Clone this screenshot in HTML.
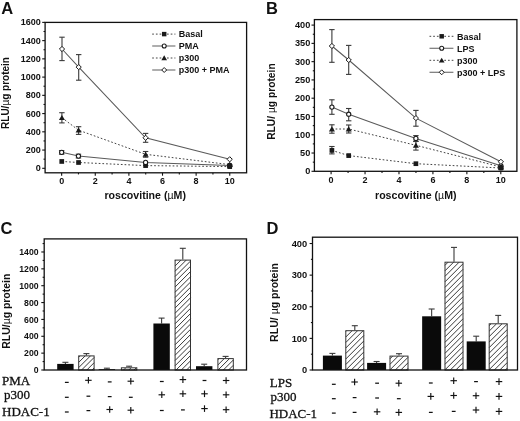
<!DOCTYPE html><html><head><meta charset="utf-8"><style>html,body{margin:0;padding:0;background:#fff;width:520px;height:421px;overflow:hidden}svg{display:block;filter:grayscale(100%) blur(0.4px)}</style></head><body><svg width="520" height="421" viewBox="0 0 520 421">
<defs><pattern id="hatchC" patternUnits="userSpaceOnUse" x="3.77" y="0" width="3.71" height="3.71" patternTransform="rotate(45)"><rect width="3.71" height="3.71" fill="#fff"/><line x1="0" y1="-1" x2="0" y2="4.71" stroke="#222" stroke-width="0.85"/><line x1="3.71" y1="-1" x2="3.71" y2="4.71" stroke="#222" stroke-width="0.85"/></pattern><pattern id="hatchD" patternUnits="userSpaceOnUse" x="0.57" y="0" width="3.89" height="3.89" patternTransform="rotate(45)"><rect width="3.89" height="3.89" fill="#fff"/><line x1="0" y1="-1" x2="0" y2="4.890000000000001" stroke="#222" stroke-width="0.85"/><line x1="3.89" y1="-1" x2="3.89" y2="4.890000000000001" stroke="#222" stroke-width="0.85"/></pattern></defs>
<rect width="520" height="421" fill="#fff"/>
<line x1="42.20" y1="168.30" x2="45.10" y2="168.30" stroke="#111" stroke-width="1.1" stroke-linecap="butt"/>
<text x="40.80" y="171.30" font-family='"Liberation Sans", sans-serif' font-size="9" font-weight="bold" text-anchor="end" fill="#111" >0</text>
<line x1="42.20" y1="150.06" x2="45.10" y2="150.06" stroke="#111" stroke-width="1.1" stroke-linecap="butt"/>
<text x="40.80" y="153.06" font-family='"Liberation Sans", sans-serif' font-size="9" font-weight="bold" text-anchor="end" fill="#111" >200</text>
<line x1="42.20" y1="131.82" x2="45.10" y2="131.82" stroke="#111" stroke-width="1.1" stroke-linecap="butt"/>
<text x="40.80" y="134.82" font-family='"Liberation Sans", sans-serif' font-size="9" font-weight="bold" text-anchor="end" fill="#111" >400</text>
<line x1="42.20" y1="113.58" x2="45.10" y2="113.58" stroke="#111" stroke-width="1.1" stroke-linecap="butt"/>
<text x="40.80" y="116.58" font-family='"Liberation Sans", sans-serif' font-size="9" font-weight="bold" text-anchor="end" fill="#111" >600</text>
<line x1="42.20" y1="95.34" x2="45.10" y2="95.34" stroke="#111" stroke-width="1.1" stroke-linecap="butt"/>
<text x="40.80" y="98.34" font-family='"Liberation Sans", sans-serif' font-size="9" font-weight="bold" text-anchor="end" fill="#111" >800</text>
<line x1="42.20" y1="77.10" x2="45.10" y2="77.10" stroke="#111" stroke-width="1.1" stroke-linecap="butt"/>
<text x="40.80" y="80.10" font-family='"Liberation Sans", sans-serif' font-size="9" font-weight="bold" text-anchor="end" fill="#111" >1000</text>
<line x1="42.20" y1="58.86" x2="45.10" y2="58.86" stroke="#111" stroke-width="1.1" stroke-linecap="butt"/>
<text x="40.80" y="61.86" font-family='"Liberation Sans", sans-serif' font-size="9" font-weight="bold" text-anchor="end" fill="#111" >1200</text>
<line x1="42.20" y1="40.62" x2="45.10" y2="40.62" stroke="#111" stroke-width="1.1" stroke-linecap="butt"/>
<text x="40.80" y="43.62" font-family='"Liberation Sans", sans-serif' font-size="9" font-weight="bold" text-anchor="end" fill="#111" >1400</text>
<line x1="42.20" y1="22.38" x2="45.10" y2="22.38" stroke="#111" stroke-width="1.1" stroke-linecap="butt"/>
<text x="40.80" y="25.38" font-family='"Liberation Sans", sans-serif' font-size="9" font-weight="bold" text-anchor="end" fill="#111" >1600</text>
<line x1="43.50" y1="159.18" x2="45.10" y2="159.18" stroke="#111" stroke-width="1.1" stroke-linecap="butt"/>
<line x1="43.50" y1="140.94" x2="45.10" y2="140.94" stroke="#111" stroke-width="1.1" stroke-linecap="butt"/>
<line x1="43.50" y1="122.70" x2="45.10" y2="122.70" stroke="#111" stroke-width="1.1" stroke-linecap="butt"/>
<line x1="43.50" y1="104.46" x2="45.10" y2="104.46" stroke="#111" stroke-width="1.1" stroke-linecap="butt"/>
<line x1="43.50" y1="86.22" x2="45.10" y2="86.22" stroke="#111" stroke-width="1.1" stroke-linecap="butt"/>
<line x1="43.50" y1="67.98" x2="45.10" y2="67.98" stroke="#111" stroke-width="1.1" stroke-linecap="butt"/>
<line x1="43.50" y1="49.74" x2="45.10" y2="49.74" stroke="#111" stroke-width="1.1" stroke-linecap="butt"/>
<line x1="43.50" y1="31.50" x2="45.10" y2="31.50" stroke="#111" stroke-width="1.1" stroke-linecap="butt"/>
<line x1="61.65" y1="172.80" x2="61.65" y2="175.70" stroke="#111" stroke-width="1.1" stroke-linecap="butt"/>
<text x="61.65" y="184.00" font-family='"Liberation Sans", sans-serif' font-size="9" font-weight="bold" text-anchor="middle" fill="#111" >0</text>
<line x1="95.27" y1="172.80" x2="95.27" y2="175.70" stroke="#111" stroke-width="1.1" stroke-linecap="butt"/>
<text x="95.27" y="184.00" font-family='"Liberation Sans", sans-serif' font-size="9" font-weight="bold" text-anchor="middle" fill="#111" >2</text>
<line x1="128.89" y1="172.80" x2="128.89" y2="175.70" stroke="#111" stroke-width="1.1" stroke-linecap="butt"/>
<text x="128.89" y="184.00" font-family='"Liberation Sans", sans-serif' font-size="9" font-weight="bold" text-anchor="middle" fill="#111" >4</text>
<line x1="162.51" y1="172.80" x2="162.51" y2="175.70" stroke="#111" stroke-width="1.1" stroke-linecap="butt"/>
<text x="162.51" y="184.00" font-family='"Liberation Sans", sans-serif' font-size="9" font-weight="bold" text-anchor="middle" fill="#111" >6</text>
<line x1="196.13" y1="172.80" x2="196.13" y2="175.70" stroke="#111" stroke-width="1.1" stroke-linecap="butt"/>
<text x="196.13" y="184.00" font-family='"Liberation Sans", sans-serif' font-size="9" font-weight="bold" text-anchor="middle" fill="#111" >8</text>
<line x1="229.75" y1="172.80" x2="229.75" y2="175.70" stroke="#111" stroke-width="1.1" stroke-linecap="butt"/>
<text x="229.75" y="184.00" font-family='"Liberation Sans", sans-serif' font-size="9" font-weight="bold" text-anchor="middle" fill="#111" >10</text>
<line x1="78.46" y1="172.80" x2="78.46" y2="174.40" stroke="#111" stroke-width="1.1" stroke-linecap="butt"/>
<line x1="112.08" y1="172.80" x2="112.08" y2="174.40" stroke="#111" stroke-width="1.1" stroke-linecap="butt"/>
<line x1="145.70" y1="172.80" x2="145.70" y2="174.40" stroke="#111" stroke-width="1.1" stroke-linecap="butt"/>
<line x1="179.32" y1="172.80" x2="179.32" y2="174.40" stroke="#111" stroke-width="1.1" stroke-linecap="butt"/>
<line x1="212.94" y1="172.80" x2="212.94" y2="174.40" stroke="#111" stroke-width="1.1" stroke-linecap="butt"/>
<rect x="45.1" y="22.4" width="201.50" height="150.40" fill="none" stroke="#111" stroke-width="1.3"/>
<polyline points="61.75,161.45 78.55,162.50 145.60,165.60 229.70,166.60" fill="none" stroke="#444" stroke-width="1.0" stroke-dasharray="1.7,2.0"/>
<polyline points="61.65,152.35 78.45,156.10 145.60,162.40 229.70,165.40" fill="none" stroke="#5a5a5a" stroke-width="1.05"/>
<polyline points="61.90,117.70 78.60,130.20 145.60,154.30 229.70,164.60" fill="none" stroke="#444" stroke-width="1.0" stroke-dasharray="1.7,2.0"/>
<polyline points="62.00,49.00 78.70,67.10 145.60,137.80 229.70,159.30" fill="none" stroke="#5a5a5a" stroke-width="1.05"/>
<line x1="61.65" y1="150.60" x2="61.65" y2="154.20" stroke="#3a3a3a" stroke-width="1.1" stroke-linecap="butt"/>
<line x1="58.95" y1="150.60" x2="64.35" y2="150.60" stroke="#3a3a3a" stroke-width="1.1" stroke-linecap="butt"/>
<line x1="58.95" y1="154.20" x2="64.35" y2="154.20" stroke="#3a3a3a" stroke-width="1.1" stroke-linecap="butt"/>
<line x1="78.45" y1="154.20" x2="78.45" y2="158.00" stroke="#3a3a3a" stroke-width="1.1" stroke-linecap="butt"/>
<line x1="75.75" y1="154.20" x2="81.15" y2="154.20" stroke="#3a3a3a" stroke-width="1.1" stroke-linecap="butt"/>
<line x1="75.75" y1="158.00" x2="81.15" y2="158.00" stroke="#3a3a3a" stroke-width="1.1" stroke-linecap="butt"/>
<line x1="61.90" y1="112.70" x2="61.90" y2="122.90" stroke="#3a3a3a" stroke-width="1.1" stroke-linecap="butt"/>
<line x1="59.20" y1="112.70" x2="64.60" y2="112.70" stroke="#3a3a3a" stroke-width="1.1" stroke-linecap="butt"/>
<line x1="59.20" y1="122.90" x2="64.60" y2="122.90" stroke="#3a3a3a" stroke-width="1.1" stroke-linecap="butt"/>
<line x1="78.60" y1="126.70" x2="78.60" y2="134.40" stroke="#3a3a3a" stroke-width="1.1" stroke-linecap="butt"/>
<line x1="75.90" y1="126.70" x2="81.30" y2="126.70" stroke="#3a3a3a" stroke-width="1.1" stroke-linecap="butt"/>
<line x1="75.90" y1="134.40" x2="81.30" y2="134.40" stroke="#3a3a3a" stroke-width="1.1" stroke-linecap="butt"/>
<line x1="145.60" y1="151.50" x2="145.60" y2="157.20" stroke="#3a3a3a" stroke-width="1.1" stroke-linecap="butt"/>
<line x1="142.90" y1="151.50" x2="148.30" y2="151.50" stroke="#3a3a3a" stroke-width="1.1" stroke-linecap="butt"/>
<line x1="142.90" y1="157.20" x2="148.30" y2="157.20" stroke="#3a3a3a" stroke-width="1.1" stroke-linecap="butt"/>
<line x1="62.00" y1="37.20" x2="62.00" y2="60.60" stroke="#3a3a3a" stroke-width="1.1" stroke-linecap="butt"/>
<line x1="59.30" y1="37.20" x2="64.70" y2="37.20" stroke="#3a3a3a" stroke-width="1.1" stroke-linecap="butt"/>
<line x1="59.30" y1="60.60" x2="64.70" y2="60.60" stroke="#3a3a3a" stroke-width="1.1" stroke-linecap="butt"/>
<line x1="78.70" y1="54.60" x2="78.70" y2="80.20" stroke="#3a3a3a" stroke-width="1.1" stroke-linecap="butt"/>
<line x1="76.00" y1="54.60" x2="81.40" y2="54.60" stroke="#3a3a3a" stroke-width="1.1" stroke-linecap="butt"/>
<line x1="76.00" y1="80.20" x2="81.40" y2="80.20" stroke="#3a3a3a" stroke-width="1.1" stroke-linecap="butt"/>
<line x1="145.60" y1="133.40" x2="145.60" y2="142.30" stroke="#3a3a3a" stroke-width="1.1" stroke-linecap="butt"/>
<line x1="142.90" y1="133.40" x2="148.30" y2="133.40" stroke="#3a3a3a" stroke-width="1.1" stroke-linecap="butt"/>
<line x1="142.90" y1="142.30" x2="148.30" y2="142.30" stroke="#3a3a3a" stroke-width="1.1" stroke-linecap="butt"/>
<rect x="59.40" y="159.10" width="4.70" height="4.70" fill="#1a1a1a"/>
<rect x="76.20" y="160.15" width="4.70" height="4.70" fill="#1a1a1a"/>
<rect x="143.25" y="163.25" width="4.70" height="4.70" fill="#1a1a1a"/>
<rect x="227.35" y="164.25" width="4.70" height="4.70" fill="#1a1a1a"/>
<circle cx="61.65" cy="152.35" r="2.10" fill="#fff" stroke="#1a1a1a" stroke-width="1.1"/>
<circle cx="78.45" cy="156.10" r="2.10" fill="#fff" stroke="#1a1a1a" stroke-width="1.1"/>
<circle cx="145.60" cy="162.40" r="2.10" fill="#fff" stroke="#1a1a1a" stroke-width="1.1"/>
<circle cx="229.70" cy="165.40" r="2.10" fill="#fff" stroke="#1a1a1a" stroke-width="1.1"/>
<polygon points="61.90,114.90 64.90,120.08 58.90,120.08" fill="#1a1a1a"/>
<polygon points="78.60,127.40 81.60,132.58 75.60,132.58" fill="#1a1a1a"/>
<polygon points="145.60,151.50 148.60,156.68 142.60,156.68" fill="#1a1a1a"/>
<polygon points="229.70,161.80 232.70,166.98 226.70,166.98" fill="#1a1a1a"/>
<rect x="227.10" y="163.00" width="5.2" height="5.60" rx="1.8" fill="#1a1a1a"/>
<polygon points="62.00,46.40 64.60,49.00 62.00,51.60 59.40,49.00" fill="#fff" stroke="#1a1a1a" stroke-width="1.0"/>
<polygon points="78.70,64.50 81.30,67.10 78.70,69.70 76.10,67.10" fill="#fff" stroke="#1a1a1a" stroke-width="1.0"/>
<polygon points="145.60,135.20 148.20,137.80 145.60,140.40 143.00,137.80" fill="#fff" stroke="#1a1a1a" stroke-width="1.0"/>
<polygon points="229.70,156.70 232.30,159.30 229.70,161.90 227.10,159.30" fill="#fff" stroke="#1a1a1a" stroke-width="1.0"/>
<line x1="152.20" y1="34.10" x2="175.40" y2="34.10" stroke="#444" stroke-width="1.0" stroke-linecap="butt" stroke-dasharray="1.7,2.0"/>
<rect x="161.97" y="31.87" width="4.46" height="4.46" fill="#1a1a1a"/>
<text x="178.70" y="37.40" font-family='"Liberation Sans", sans-serif' font-size="9" font-weight="bold" text-anchor="start" fill="#111" >Basal</text>
<line x1="152.20" y1="46.00" x2="175.40" y2="46.00" stroke="#777" stroke-width="1.2" stroke-linecap="butt"/>
<circle cx="164.20" cy="46.00" r="1.99" fill="#fff" stroke="#1a1a1a" stroke-width="1.1"/>
<text x="178.70" y="49.30" font-family='"Liberation Sans", sans-serif' font-size="9" font-weight="bold" text-anchor="start" fill="#111" >PMA</text>
<line x1="152.20" y1="58.00" x2="175.40" y2="58.00" stroke="#444" stroke-width="1.0" stroke-linecap="butt" stroke-dasharray="1.7,2.0"/>
<polygon points="164.20,55.34 167.05,60.26 161.35,60.26" fill="#1a1a1a"/>
<text x="178.70" y="61.30" font-family='"Liberation Sans", sans-serif' font-size="9" font-weight="bold" text-anchor="start" fill="#111" >p300</text>
<line x1="152.20" y1="70.00" x2="175.40" y2="70.00" stroke="#777" stroke-width="1.2" stroke-linecap="butt"/>
<polygon points="164.20,67.53 166.67,70.00 164.20,72.47 161.73,70.00" fill="#fff" stroke="#1a1a1a" stroke-width="1.0"/>
<text x="178.70" y="73.30" font-family='"Liberation Sans", sans-serif' font-size="9" font-weight="bold" text-anchor="start" fill="#111" >p300 + PMA</text>
<text x="145.20" y="198.60" font-family='"Liberation Sans", sans-serif' font-size="10.6" font-weight="bold" text-anchor="middle" fill="#111" >roscovitine (<tspan font-weight="normal">&#181;</tspan>M)</text>
<text x="0.00" y="0.00" font-family='"Liberation Sans", sans-serif' font-size="10.0" font-weight="bold" text-anchor="middle" fill="#111" transform="translate(9.4,93.0) rotate(-90)">RLU/<tspan font-weight="normal">&#181;</tspan>g protein</text>
<text x="1.20" y="13.80" font-family='"Liberation Sans", sans-serif' font-size="16.5" font-weight="bold" text-anchor="start" fill="#111" >A</text>
<line x1="311.50" y1="171.30" x2="314.40" y2="171.30" stroke="#111" stroke-width="1.1" stroke-linecap="butt"/>
<text x="310.30" y="174.40" font-family='"Liberation Sans", sans-serif' font-size="9.2" font-weight="bold" text-anchor="end" fill="#111" >0</text>
<line x1="311.50" y1="153.03" x2="314.40" y2="153.03" stroke="#111" stroke-width="1.1" stroke-linecap="butt"/>
<text x="310.30" y="156.12" font-family='"Liberation Sans", sans-serif' font-size="9.2" font-weight="bold" text-anchor="end" fill="#111" >50</text>
<line x1="311.50" y1="134.75" x2="314.40" y2="134.75" stroke="#111" stroke-width="1.1" stroke-linecap="butt"/>
<text x="310.30" y="137.85" font-family='"Liberation Sans", sans-serif' font-size="9.2" font-weight="bold" text-anchor="end" fill="#111" >100</text>
<line x1="311.50" y1="116.48" x2="314.40" y2="116.48" stroke="#111" stroke-width="1.1" stroke-linecap="butt"/>
<text x="310.30" y="119.58" font-family='"Liberation Sans", sans-serif' font-size="9.2" font-weight="bold" text-anchor="end" fill="#111" >150</text>
<line x1="311.50" y1="98.20" x2="314.40" y2="98.20" stroke="#111" stroke-width="1.1" stroke-linecap="butt"/>
<text x="310.30" y="101.30" font-family='"Liberation Sans", sans-serif' font-size="9.2" font-weight="bold" text-anchor="end" fill="#111" >200</text>
<line x1="311.50" y1="79.93" x2="314.40" y2="79.93" stroke="#111" stroke-width="1.1" stroke-linecap="butt"/>
<text x="310.30" y="83.03" font-family='"Liberation Sans", sans-serif' font-size="9.2" font-weight="bold" text-anchor="end" fill="#111" >250</text>
<line x1="311.50" y1="61.65" x2="314.40" y2="61.65" stroke="#111" stroke-width="1.1" stroke-linecap="butt"/>
<text x="310.30" y="64.75" font-family='"Liberation Sans", sans-serif' font-size="9.2" font-weight="bold" text-anchor="end" fill="#111" >300</text>
<line x1="311.50" y1="43.38" x2="314.40" y2="43.38" stroke="#111" stroke-width="1.1" stroke-linecap="butt"/>
<text x="310.30" y="46.48" font-family='"Liberation Sans", sans-serif' font-size="9.2" font-weight="bold" text-anchor="end" fill="#111" >350</text>
<line x1="311.50" y1="25.10" x2="314.40" y2="25.10" stroke="#111" stroke-width="1.1" stroke-linecap="butt"/>
<text x="310.30" y="28.20" font-family='"Liberation Sans", sans-serif' font-size="9.2" font-weight="bold" text-anchor="end" fill="#111" >400</text>
<line x1="312.80" y1="162.16" x2="314.40" y2="162.16" stroke="#111" stroke-width="1.1" stroke-linecap="butt"/>
<line x1="312.80" y1="143.89" x2="314.40" y2="143.89" stroke="#111" stroke-width="1.1" stroke-linecap="butt"/>
<line x1="312.80" y1="125.61" x2="314.40" y2="125.61" stroke="#111" stroke-width="1.1" stroke-linecap="butt"/>
<line x1="312.80" y1="107.34" x2="314.40" y2="107.34" stroke="#111" stroke-width="1.1" stroke-linecap="butt"/>
<line x1="312.80" y1="89.06" x2="314.40" y2="89.06" stroke="#111" stroke-width="1.1" stroke-linecap="butt"/>
<line x1="312.80" y1="70.79" x2="314.40" y2="70.79" stroke="#111" stroke-width="1.1" stroke-linecap="butt"/>
<line x1="312.80" y1="52.51" x2="314.40" y2="52.51" stroke="#111" stroke-width="1.1" stroke-linecap="butt"/>
<line x1="312.80" y1="34.24" x2="314.40" y2="34.24" stroke="#111" stroke-width="1.1" stroke-linecap="butt"/>
<line x1="331.10" y1="171.30" x2="331.10" y2="174.20" stroke="#111" stroke-width="1.1" stroke-linecap="butt"/>
<text x="331.10" y="182.80" font-family='"Liberation Sans", sans-serif' font-size="9" font-weight="bold" text-anchor="middle" fill="#111" >0</text>
<line x1="365.04" y1="171.30" x2="365.04" y2="174.20" stroke="#111" stroke-width="1.1" stroke-linecap="butt"/>
<text x="365.04" y="182.80" font-family='"Liberation Sans", sans-serif' font-size="9" font-weight="bold" text-anchor="middle" fill="#111" >2</text>
<line x1="398.98" y1="171.30" x2="398.98" y2="174.20" stroke="#111" stroke-width="1.1" stroke-linecap="butt"/>
<text x="398.98" y="182.80" font-family='"Liberation Sans", sans-serif' font-size="9" font-weight="bold" text-anchor="middle" fill="#111" >4</text>
<line x1="432.92" y1="171.30" x2="432.92" y2="174.20" stroke="#111" stroke-width="1.1" stroke-linecap="butt"/>
<text x="432.92" y="182.80" font-family='"Liberation Sans", sans-serif' font-size="9" font-weight="bold" text-anchor="middle" fill="#111" >6</text>
<line x1="466.86" y1="171.30" x2="466.86" y2="174.20" stroke="#111" stroke-width="1.1" stroke-linecap="butt"/>
<text x="466.86" y="182.80" font-family='"Liberation Sans", sans-serif' font-size="9" font-weight="bold" text-anchor="middle" fill="#111" >8</text>
<line x1="500.80" y1="171.30" x2="500.80" y2="174.20" stroke="#111" stroke-width="1.1" stroke-linecap="butt"/>
<text x="500.80" y="182.80" font-family='"Liberation Sans", sans-serif' font-size="9" font-weight="bold" text-anchor="middle" fill="#111" >10</text>
<line x1="348.07" y1="171.30" x2="348.07" y2="172.90" stroke="#111" stroke-width="1.1" stroke-linecap="butt"/>
<line x1="382.01" y1="171.30" x2="382.01" y2="172.90" stroke="#111" stroke-width="1.1" stroke-linecap="butt"/>
<line x1="415.95" y1="171.30" x2="415.95" y2="172.90" stroke="#111" stroke-width="1.1" stroke-linecap="butt"/>
<line x1="449.89" y1="171.30" x2="449.89" y2="172.90" stroke="#111" stroke-width="1.1" stroke-linecap="butt"/>
<line x1="483.83" y1="171.30" x2="483.83" y2="172.90" stroke="#111" stroke-width="1.1" stroke-linecap="butt"/>
<rect x="314.4" y="19.6" width="202.50" height="151.70" fill="none" stroke="#111" stroke-width="1.3"/>
<polyline points="331.90,150.40 348.70,155.60 415.90,163.70 500.90,168.00" fill="none" stroke="#444" stroke-width="1.0" stroke-dasharray="1.7,2.0"/>
<polyline points="331.90,107.10 348.70,114.20 415.90,138.40 500.90,165.80" fill="none" stroke="#5a5a5a" stroke-width="1.05"/>
<polyline points="331.90,129.00 348.70,129.00 415.90,145.30 500.90,167.00" fill="none" stroke="#444" stroke-width="1.0" stroke-dasharray="1.7,2.0"/>
<polyline points="331.90,46.00 348.70,60.00 415.90,118.10 500.90,161.80" fill="none" stroke="#5a5a5a" stroke-width="1.05"/>
<line x1="331.90" y1="146.50" x2="331.90" y2="153.90" stroke="#3a3a3a" stroke-width="1.1" stroke-linecap="butt"/>
<line x1="329.20" y1="146.50" x2="334.60" y2="146.50" stroke="#3a3a3a" stroke-width="1.1" stroke-linecap="butt"/>
<line x1="329.20" y1="153.90" x2="334.60" y2="153.90" stroke="#3a3a3a" stroke-width="1.1" stroke-linecap="butt"/>
<line x1="331.90" y1="99.80" x2="331.90" y2="114.30" stroke="#3a3a3a" stroke-width="1.1" stroke-linecap="butt"/>
<line x1="329.20" y1="99.80" x2="334.60" y2="99.80" stroke="#3a3a3a" stroke-width="1.1" stroke-linecap="butt"/>
<line x1="329.20" y1="114.30" x2="334.60" y2="114.30" stroke="#3a3a3a" stroke-width="1.1" stroke-linecap="butt"/>
<line x1="348.70" y1="108.50" x2="348.70" y2="120.80" stroke="#3a3a3a" stroke-width="1.1" stroke-linecap="butt"/>
<line x1="346.00" y1="108.50" x2="351.40" y2="108.50" stroke="#3a3a3a" stroke-width="1.1" stroke-linecap="butt"/>
<line x1="346.00" y1="120.80" x2="351.40" y2="120.80" stroke="#3a3a3a" stroke-width="1.1" stroke-linecap="butt"/>
<line x1="415.90" y1="135.60" x2="415.90" y2="141.20" stroke="#3a3a3a" stroke-width="1.1" stroke-linecap="butt"/>
<line x1="413.20" y1="135.60" x2="418.60" y2="135.60" stroke="#3a3a3a" stroke-width="1.1" stroke-linecap="butt"/>
<line x1="413.20" y1="141.20" x2="418.60" y2="141.20" stroke="#3a3a3a" stroke-width="1.1" stroke-linecap="butt"/>
<line x1="331.90" y1="124.80" x2="331.90" y2="133.20" stroke="#3a3a3a" stroke-width="1.1" stroke-linecap="butt"/>
<line x1="329.20" y1="124.80" x2="334.60" y2="124.80" stroke="#3a3a3a" stroke-width="1.1" stroke-linecap="butt"/>
<line x1="329.20" y1="133.20" x2="334.60" y2="133.20" stroke="#3a3a3a" stroke-width="1.1" stroke-linecap="butt"/>
<line x1="348.70" y1="125.00" x2="348.70" y2="133.00" stroke="#3a3a3a" stroke-width="1.1" stroke-linecap="butt"/>
<line x1="346.00" y1="125.00" x2="351.40" y2="125.00" stroke="#3a3a3a" stroke-width="1.1" stroke-linecap="butt"/>
<line x1="346.00" y1="133.00" x2="351.40" y2="133.00" stroke="#3a3a3a" stroke-width="1.1" stroke-linecap="butt"/>
<line x1="415.90" y1="141.50" x2="415.90" y2="150.10" stroke="#3a3a3a" stroke-width="1.1" stroke-linecap="butt"/>
<line x1="413.20" y1="141.50" x2="418.60" y2="141.50" stroke="#3a3a3a" stroke-width="1.1" stroke-linecap="butt"/>
<line x1="413.20" y1="150.10" x2="418.60" y2="150.10" stroke="#3a3a3a" stroke-width="1.1" stroke-linecap="butt"/>
<line x1="331.90" y1="29.60" x2="331.90" y2="62.30" stroke="#3a3a3a" stroke-width="1.1" stroke-linecap="butt"/>
<line x1="329.20" y1="29.60" x2="334.60" y2="29.60" stroke="#3a3a3a" stroke-width="1.1" stroke-linecap="butt"/>
<line x1="329.20" y1="62.30" x2="334.60" y2="62.30" stroke="#3a3a3a" stroke-width="1.1" stroke-linecap="butt"/>
<line x1="348.70" y1="45.40" x2="348.70" y2="74.40" stroke="#3a3a3a" stroke-width="1.1" stroke-linecap="butt"/>
<line x1="346.00" y1="45.40" x2="351.40" y2="45.40" stroke="#3a3a3a" stroke-width="1.1" stroke-linecap="butt"/>
<line x1="346.00" y1="74.40" x2="351.40" y2="74.40" stroke="#3a3a3a" stroke-width="1.1" stroke-linecap="butt"/>
<line x1="415.90" y1="110.40" x2="415.90" y2="126.20" stroke="#3a3a3a" stroke-width="1.1" stroke-linecap="butt"/>
<line x1="413.20" y1="110.40" x2="418.60" y2="110.40" stroke="#3a3a3a" stroke-width="1.1" stroke-linecap="butt"/>
<line x1="413.20" y1="126.20" x2="418.60" y2="126.20" stroke="#3a3a3a" stroke-width="1.1" stroke-linecap="butt"/>
<rect x="329.55" y="148.05" width="4.70" height="4.70" fill="#1a1a1a"/>
<rect x="346.35" y="153.25" width="4.70" height="4.70" fill="#1a1a1a"/>
<rect x="413.55" y="161.35" width="4.70" height="4.70" fill="#1a1a1a"/>
<rect x="498.55" y="165.65" width="4.70" height="4.70" fill="#1a1a1a"/>
<circle cx="331.90" cy="107.10" r="2.10" fill="#fff" stroke="#1a1a1a" stroke-width="1.1"/>
<circle cx="348.70" cy="114.20" r="2.10" fill="#fff" stroke="#1a1a1a" stroke-width="1.1"/>
<circle cx="415.90" cy="138.40" r="2.10" fill="#fff" stroke="#1a1a1a" stroke-width="1.1"/>
<circle cx="500.90" cy="165.80" r="2.10" fill="#fff" stroke="#1a1a1a" stroke-width="1.1"/>
<polygon points="331.90,126.20 334.90,131.38 328.90,131.38" fill="#1a1a1a"/>
<polygon points="348.70,126.20 351.70,131.38 345.70,131.38" fill="#1a1a1a"/>
<polygon points="415.90,142.50 418.90,147.68 412.90,147.68" fill="#1a1a1a"/>
<polygon points="500.90,164.20 503.90,169.38 497.90,169.38" fill="#1a1a1a"/>
<rect x="498.30" y="165.00" width="5.2" height="5.30" rx="1.8" fill="#1a1a1a"/>
<polygon points="331.90,43.40 334.50,46.00 331.90,48.60 329.30,46.00" fill="#fff" stroke="#1a1a1a" stroke-width="1.0"/>
<polygon points="348.70,57.40 351.30,60.00 348.70,62.60 346.10,60.00" fill="#fff" stroke="#1a1a1a" stroke-width="1.0"/>
<polygon points="415.90,115.50 418.50,118.10 415.90,120.70 413.30,118.10" fill="#fff" stroke="#1a1a1a" stroke-width="1.0"/>
<polygon points="500.90,159.20 503.50,161.80 500.90,164.40 498.30,161.80" fill="#fff" stroke="#1a1a1a" stroke-width="1.0"/>
<line x1="429.50" y1="36.30" x2="453.40" y2="36.30" stroke="#444" stroke-width="1.0" stroke-linecap="butt" stroke-dasharray="1.7,2.0"/>
<rect x="439.47" y="34.07" width="4.46" height="4.46" fill="#1a1a1a"/>
<text x="457.00" y="39.60" font-family='"Liberation Sans", sans-serif' font-size="9" font-weight="bold" text-anchor="start" fill="#111" >Basal</text>
<line x1="429.50" y1="48.30" x2="453.40" y2="48.30" stroke="#777" stroke-width="1.2" stroke-linecap="butt"/>
<circle cx="441.70" cy="48.30" r="1.99" fill="#fff" stroke="#1a1a1a" stroke-width="1.1"/>
<text x="457.00" y="51.60" font-family='"Liberation Sans", sans-serif' font-size="9" font-weight="bold" text-anchor="start" fill="#111" >LPS</text>
<line x1="429.50" y1="60.30" x2="453.40" y2="60.30" stroke="#444" stroke-width="1.0" stroke-linecap="butt" stroke-dasharray="1.7,2.0"/>
<polygon points="441.70,57.64 444.55,62.56 438.85,62.56" fill="#1a1a1a"/>
<text x="457.00" y="63.60" font-family='"Liberation Sans", sans-serif' font-size="9" font-weight="bold" text-anchor="start" fill="#111" >p300</text>
<line x1="429.50" y1="72.30" x2="453.40" y2="72.30" stroke="#777" stroke-width="1.2" stroke-linecap="butt"/>
<polygon points="441.70,69.83 444.17,72.30 441.70,74.77 439.23,72.30" fill="#fff" stroke="#1a1a1a" stroke-width="1.0"/>
<text x="457.00" y="75.60" font-family='"Liberation Sans", sans-serif' font-size="9" font-weight="bold" text-anchor="start" fill="#111" >p300 + LPS</text>
<text x="415.75" y="198.60" font-family='"Liberation Sans", sans-serif' font-size="10.6" font-weight="bold" text-anchor="middle" fill="#111" >roscovitine (<tspan font-weight="normal">&#181;</tspan>M)</text>
<text x="0.00" y="0.00" font-family='"Liberation Sans", sans-serif' font-size="10.25" font-weight="bold" text-anchor="middle" fill="#111" transform="translate(275.4,101.6) rotate(-90)">RLU/ <tspan font-weight="normal">&#181;</tspan>g protein</text>
<text x="266.00" y="13.80" font-family='"Liberation Sans", sans-serif' font-size="16.5" font-weight="bold" text-anchor="start" fill="#111" >B</text>
<line x1="41.30" y1="370.00" x2="44.20" y2="370.00" stroke="#111" stroke-width="1.1" stroke-linecap="butt"/>
<text x="38.60" y="373.10" font-family='"Liberation Sans", sans-serif' font-size="8.7" font-weight="bold" text-anchor="end" fill="#111" >0</text>
<line x1="41.30" y1="353.14" x2="44.20" y2="353.14" stroke="#111" stroke-width="1.1" stroke-linecap="butt"/>
<text x="38.60" y="356.24" font-family='"Liberation Sans", sans-serif' font-size="8.7" font-weight="bold" text-anchor="end" fill="#111" >200</text>
<line x1="41.30" y1="336.28" x2="44.20" y2="336.28" stroke="#111" stroke-width="1.1" stroke-linecap="butt"/>
<text x="38.60" y="339.38" font-family='"Liberation Sans", sans-serif' font-size="8.7" font-weight="bold" text-anchor="end" fill="#111" >400</text>
<line x1="41.30" y1="319.42" x2="44.20" y2="319.42" stroke="#111" stroke-width="1.1" stroke-linecap="butt"/>
<text x="38.60" y="322.52" font-family='"Liberation Sans", sans-serif' font-size="8.7" font-weight="bold" text-anchor="end" fill="#111" >600</text>
<line x1="41.30" y1="302.56" x2="44.20" y2="302.56" stroke="#111" stroke-width="1.1" stroke-linecap="butt"/>
<text x="38.60" y="305.66" font-family='"Liberation Sans", sans-serif' font-size="8.7" font-weight="bold" text-anchor="end" fill="#111" >800</text>
<line x1="41.30" y1="285.70" x2="44.20" y2="285.70" stroke="#111" stroke-width="1.1" stroke-linecap="butt"/>
<text x="38.60" y="288.80" font-family='"Liberation Sans", sans-serif' font-size="8.7" font-weight="bold" text-anchor="end" fill="#111" >1000</text>
<line x1="41.30" y1="268.84" x2="44.20" y2="268.84" stroke="#111" stroke-width="1.1" stroke-linecap="butt"/>
<text x="38.60" y="271.94" font-family='"Liberation Sans", sans-serif' font-size="8.7" font-weight="bold" text-anchor="end" fill="#111" >1200</text>
<line x1="41.30" y1="251.98" x2="44.20" y2="251.98" stroke="#111" stroke-width="1.1" stroke-linecap="butt"/>
<text x="38.60" y="255.08" font-family='"Liberation Sans", sans-serif' font-size="8.7" font-weight="bold" text-anchor="end" fill="#111" >1400</text>
<line x1="42.60" y1="361.57" x2="44.20" y2="361.57" stroke="#111" stroke-width="1.1" stroke-linecap="butt"/>
<line x1="42.60" y1="344.71" x2="44.20" y2="344.71" stroke="#111" stroke-width="1.1" stroke-linecap="butt"/>
<line x1="42.60" y1="327.85" x2="44.20" y2="327.85" stroke="#111" stroke-width="1.1" stroke-linecap="butt"/>
<line x1="42.60" y1="310.99" x2="44.20" y2="310.99" stroke="#111" stroke-width="1.1" stroke-linecap="butt"/>
<line x1="42.60" y1="294.13" x2="44.20" y2="294.13" stroke="#111" stroke-width="1.1" stroke-linecap="butt"/>
<line x1="42.60" y1="277.27" x2="44.20" y2="277.27" stroke="#111" stroke-width="1.1" stroke-linecap="butt"/>
<line x1="42.60" y1="260.41" x2="44.20" y2="260.41" stroke="#111" stroke-width="1.1" stroke-linecap="butt"/>
<line x1="42.60" y1="243.55" x2="44.20" y2="243.55" stroke="#111" stroke-width="1.1" stroke-linecap="butt"/>
<line x1="65.40" y1="362.30" x2="65.40" y2="363.90" stroke="#3a3a3a" stroke-width="1.1" stroke-linecap="butt"/>
<line x1="62.40" y1="362.30" x2="68.40" y2="362.30" stroke="#3a3a3a" stroke-width="1.1" stroke-linecap="butt"/>
<rect x="57.20" y="363.90" width="16.4" height="6.10" fill="#0a0a0a"/>
<line x1="86.40" y1="353.60" x2="86.40" y2="355.40" stroke="#3a3a3a" stroke-width="1.1" stroke-linecap="butt"/>
<line x1="83.40" y1="353.60" x2="89.40" y2="353.60" stroke="#3a3a3a" stroke-width="1.1" stroke-linecap="butt"/>
<path d="M78.70,357.12L79.92,355.90M78.70,362.37L85.17,355.90M78.70,367.62L90.42,355.90M81.57,370.00L94.10,357.47M86.82,370.00L94.10,362.72M92.07,370.00L94.10,367.97" stroke="#222" stroke-width="0.9" fill="none"/>
<rect x="78.70" y="355.90" width="15.40" height="14.10" fill="none" stroke="#333" stroke-width="1"/>
<line x1="106.90" y1="368.20" x2="106.90" y2="369.20" stroke="#3a3a3a" stroke-width="1.1" stroke-linecap="butt"/>
<line x1="103.90" y1="368.20" x2="109.90" y2="368.20" stroke="#3a3a3a" stroke-width="1.1" stroke-linecap="butt"/>
<rect x="98.70" y="369.20" width="16.4" height="0.80" fill="#0a0a0a"/>
<line x1="129.10" y1="366.20" x2="129.10" y2="367.30" stroke="#3a3a3a" stroke-width="1.1" stroke-linecap="butt"/>
<line x1="126.10" y1="366.20" x2="132.10" y2="366.20" stroke="#3a3a3a" stroke-width="1.1" stroke-linecap="butt"/>
<path d="M123.57,370.00L125.77,367.80M128.82,370.00L131.02,367.80M134.07,370.00L136.27,367.80" stroke="#222" stroke-width="0.9" fill="none"/>
<rect x="121.40" y="367.80" width="15.40" height="2.20" fill="none" stroke="#333" stroke-width="1"/>
<line x1="161.60" y1="318.10" x2="161.60" y2="323.50" stroke="#3a3a3a" stroke-width="1.1" stroke-linecap="butt"/>
<line x1="158.60" y1="318.10" x2="164.60" y2="318.10" stroke="#3a3a3a" stroke-width="1.1" stroke-linecap="butt"/>
<rect x="153.40" y="323.50" width="16.4" height="46.50" fill="#0a0a0a"/>
<line x1="182.80" y1="248.30" x2="182.80" y2="259.60" stroke="#3a3a3a" stroke-width="1.1" stroke-linecap="butt"/>
<line x1="179.80" y1="248.30" x2="185.80" y2="248.30" stroke="#3a3a3a" stroke-width="1.1" stroke-linecap="butt"/>
<path d="M175.10,260.72L175.72,260.10M175.10,265.97L180.97,260.10M175.10,271.22L186.22,260.10M175.10,276.47L190.50,261.07M175.10,281.72L190.50,266.32M175.10,286.97L190.50,271.57M175.10,292.22L190.50,276.82M175.10,297.47L190.50,282.07M175.10,302.72L190.50,287.32M175.10,307.97L190.50,292.57M175.10,313.22L190.50,297.82M175.10,318.47L190.50,303.07M175.10,323.72L190.50,308.32M175.10,328.97L190.50,313.57M175.10,334.22L190.50,318.82M175.10,339.47L190.50,324.07M175.10,344.72L190.50,329.32M175.10,349.97L190.50,334.57M175.10,355.22L190.50,339.82M175.10,360.47L190.50,345.07M175.10,365.72L190.50,350.32M176.07,370.00L190.50,355.57M181.32,370.00L190.50,360.82M186.57,370.00L190.50,366.07" stroke="#222" stroke-width="0.9" fill="none"/>
<rect x="175.10" y="260.10" width="15.40" height="109.90" fill="none" stroke="#333" stroke-width="1"/>
<line x1="204.20" y1="364.20" x2="204.20" y2="366.20" stroke="#3a3a3a" stroke-width="1.1" stroke-linecap="butt"/>
<line x1="201.20" y1="364.20" x2="207.20" y2="364.20" stroke="#3a3a3a" stroke-width="1.1" stroke-linecap="butt"/>
<rect x="196.00" y="366.20" width="16.4" height="3.80" fill="#0a0a0a"/>
<line x1="225.60" y1="356.40" x2="225.60" y2="358.10" stroke="#3a3a3a" stroke-width="1.1" stroke-linecap="butt"/>
<line x1="222.60" y1="356.40" x2="228.60" y2="356.40" stroke="#3a3a3a" stroke-width="1.1" stroke-linecap="butt"/>
<path d="M217.90,359.67L218.97,358.60M217.90,364.92L224.22,358.60M218.07,370.00L229.47,358.60M223.32,370.00L233.30,360.02M228.57,370.00L233.30,365.27" stroke="#222" stroke-width="0.9" fill="none"/>
<rect x="217.90" y="358.60" width="15.40" height="11.40" fill="none" stroke="#333" stroke-width="1"/>
<rect x="44.2" y="238.9" width="202.30" height="131.10" fill="none" stroke="#111" stroke-width="1.3"/>
<text x="2.00" y="384.60" font-family='"Liberation Serif", serif' font-size="13" font-weight="normal" text-anchor="start" fill="#111" stroke="#111" stroke-width="0.3">PMA</text>
<text x="3.90" y="399.40" font-family='"Liberation Serif", serif' font-size="13" font-weight="normal" text-anchor="start" fill="#111" stroke="#111" stroke-width="0.3">p300</text>
<text x="2.00" y="416.20" font-family='"Liberation Serif", serif' font-size="13" font-weight="normal" text-anchor="start" fill="#111" stroke="#111" stroke-width="0.3">HDAC-1</text>
<line x1="64.90" y1="382.40" x2="68.70" y2="382.40" stroke="#111" stroke-width="1.25" stroke-linecap="butt"/>
<line x1="85.15" y1="380.30" x2="91.65" y2="380.30" stroke="#111" stroke-width="1.15" stroke-linecap="butt"/>
<line x1="88.40" y1="377.00" x2="88.40" y2="383.60" stroke="#111" stroke-width="1.15" stroke-linecap="butt"/>
<line x1="107.80" y1="381.90" x2="111.60" y2="381.90" stroke="#111" stroke-width="1.25" stroke-linecap="butt"/>
<line x1="127.55" y1="381.20" x2="134.05" y2="381.20" stroke="#111" stroke-width="1.15" stroke-linecap="butt"/>
<line x1="130.80" y1="377.90" x2="130.80" y2="384.50" stroke="#111" stroke-width="1.15" stroke-linecap="butt"/>
<line x1="159.90" y1="381.50" x2="163.70" y2="381.50" stroke="#111" stroke-width="1.25" stroke-linecap="butt"/>
<line x1="179.65" y1="379.60" x2="186.15" y2="379.60" stroke="#111" stroke-width="1.15" stroke-linecap="butt"/>
<line x1="182.90" y1="376.30" x2="182.90" y2="382.90" stroke="#111" stroke-width="1.15" stroke-linecap="butt"/>
<line x1="202.60" y1="380.50" x2="206.40" y2="380.50" stroke="#111" stroke-width="1.25" stroke-linecap="butt"/>
<line x1="222.85" y1="380.50" x2="229.35" y2="380.50" stroke="#111" stroke-width="1.15" stroke-linecap="butt"/>
<line x1="226.10" y1="377.20" x2="226.10" y2="383.80" stroke="#111" stroke-width="1.15" stroke-linecap="butt"/>
<line x1="64.90" y1="397.30" x2="68.70" y2="397.30" stroke="#111" stroke-width="1.25" stroke-linecap="butt"/>
<line x1="86.50" y1="396.20" x2="90.30" y2="396.20" stroke="#111" stroke-width="1.25" stroke-linecap="butt"/>
<line x1="107.80" y1="396.60" x2="111.60" y2="396.60" stroke="#111" stroke-width="1.25" stroke-linecap="butt"/>
<line x1="128.90" y1="397.30" x2="132.70" y2="397.30" stroke="#111" stroke-width="1.25" stroke-linecap="butt"/>
<line x1="158.55" y1="394.80" x2="165.05" y2="394.80" stroke="#111" stroke-width="1.15" stroke-linecap="butt"/>
<line x1="161.80" y1="391.50" x2="161.80" y2="398.10" stroke="#111" stroke-width="1.15" stroke-linecap="butt"/>
<line x1="179.65" y1="393.80" x2="186.15" y2="393.80" stroke="#111" stroke-width="1.15" stroke-linecap="butt"/>
<line x1="182.90" y1="390.50" x2="182.90" y2="397.10" stroke="#111" stroke-width="1.15" stroke-linecap="butt"/>
<line x1="201.25" y1="393.80" x2="207.75" y2="393.80" stroke="#111" stroke-width="1.15" stroke-linecap="butt"/>
<line x1="204.50" y1="390.50" x2="204.50" y2="397.10" stroke="#111" stroke-width="1.15" stroke-linecap="butt"/>
<line x1="222.85" y1="394.80" x2="229.35" y2="394.80" stroke="#111" stroke-width="1.15" stroke-linecap="butt"/>
<line x1="226.10" y1="391.50" x2="226.10" y2="398.10" stroke="#111" stroke-width="1.15" stroke-linecap="butt"/>
<line x1="64.90" y1="412.00" x2="68.70" y2="412.00" stroke="#111" stroke-width="1.25" stroke-linecap="butt"/>
<line x1="86.50" y1="410.60" x2="90.30" y2="410.60" stroke="#111" stroke-width="1.25" stroke-linecap="butt"/>
<line x1="106.45" y1="409.50" x2="112.95" y2="409.50" stroke="#111" stroke-width="1.15" stroke-linecap="butt"/>
<line x1="109.70" y1="406.20" x2="109.70" y2="412.80" stroke="#111" stroke-width="1.15" stroke-linecap="butt"/>
<line x1="127.55" y1="410.20" x2="134.05" y2="410.20" stroke="#111" stroke-width="1.15" stroke-linecap="butt"/>
<line x1="130.80" y1="406.90" x2="130.80" y2="413.50" stroke="#111" stroke-width="1.15" stroke-linecap="butt"/>
<line x1="159.90" y1="410.50" x2="163.70" y2="410.50" stroke="#111" stroke-width="1.25" stroke-linecap="butt"/>
<line x1="181.00" y1="409.90" x2="184.80" y2="409.90" stroke="#111" stroke-width="1.25" stroke-linecap="butt"/>
<line x1="201.25" y1="408.60" x2="207.75" y2="408.60" stroke="#111" stroke-width="1.15" stroke-linecap="butt"/>
<line x1="204.50" y1="405.30" x2="204.50" y2="411.90" stroke="#111" stroke-width="1.15" stroke-linecap="butt"/>
<line x1="222.85" y1="409.70" x2="229.35" y2="409.70" stroke="#111" stroke-width="1.15" stroke-linecap="butt"/>
<line x1="226.10" y1="406.40" x2="226.10" y2="413.00" stroke="#111" stroke-width="1.15" stroke-linecap="butt"/>
<text x="0.00" y="0.00" font-family='"Liberation Sans", sans-serif' font-size="10.45" font-weight="bold" text-anchor="middle" fill="#111" transform="translate(9.6,311.2) rotate(-90)">RLU/<tspan font-weight="normal">&#181;</tspan>g protein</text>
<text x="0.50" y="234.20" font-family='"Liberation Sans", sans-serif' font-size="16.5" font-weight="bold" text-anchor="start" fill="#111" >C</text>
<line x1="309.60" y1="370.00" x2="312.50" y2="370.00" stroke="#111" stroke-width="1.1" stroke-linecap="butt"/>
<text x="307.20" y="373.20" font-family='"Liberation Sans", sans-serif' font-size="9.3" font-weight="bold" text-anchor="end" fill="#111" >0</text>
<line x1="309.60" y1="338.38" x2="312.50" y2="338.38" stroke="#111" stroke-width="1.1" stroke-linecap="butt"/>
<text x="307.20" y="341.58" font-family='"Liberation Sans", sans-serif' font-size="9.3" font-weight="bold" text-anchor="end" fill="#111" >100</text>
<line x1="309.60" y1="306.76" x2="312.50" y2="306.76" stroke="#111" stroke-width="1.1" stroke-linecap="butt"/>
<text x="307.20" y="309.96" font-family='"Liberation Sans", sans-serif' font-size="9.3" font-weight="bold" text-anchor="end" fill="#111" >200</text>
<line x1="309.60" y1="275.14" x2="312.50" y2="275.14" stroke="#111" stroke-width="1.1" stroke-linecap="butt"/>
<text x="307.20" y="278.34" font-family='"Liberation Sans", sans-serif' font-size="9.3" font-weight="bold" text-anchor="end" fill="#111" >300</text>
<line x1="309.60" y1="243.52" x2="312.50" y2="243.52" stroke="#111" stroke-width="1.1" stroke-linecap="butt"/>
<text x="307.20" y="246.72" font-family='"Liberation Sans", sans-serif' font-size="9.3" font-weight="bold" text-anchor="end" fill="#111" >400</text>
<line x1="310.90" y1="354.19" x2="312.50" y2="354.19" stroke="#111" stroke-width="1.1" stroke-linecap="butt"/>
<line x1="310.90" y1="322.57" x2="312.50" y2="322.57" stroke="#111" stroke-width="1.1" stroke-linecap="butt"/>
<line x1="310.90" y1="290.95" x2="312.50" y2="290.95" stroke="#111" stroke-width="1.1" stroke-linecap="butt"/>
<line x1="310.90" y1="259.33" x2="312.50" y2="259.33" stroke="#111" stroke-width="1.1" stroke-linecap="butt"/>
<line x1="332.40" y1="353.40" x2="332.40" y2="355.60" stroke="#3a3a3a" stroke-width="1.1" stroke-linecap="butt"/>
<line x1="329.40" y1="353.40" x2="335.40" y2="353.40" stroke="#3a3a3a" stroke-width="1.1" stroke-linecap="butt"/>
<rect x="322.90" y="355.60" width="19" height="14.40" fill="#0a0a0a"/>
<line x1="354.80" y1="325.70" x2="354.80" y2="330.20" stroke="#3a3a3a" stroke-width="1.1" stroke-linecap="butt"/>
<line x1="351.80" y1="325.70" x2="357.80" y2="325.70" stroke="#3a3a3a" stroke-width="1.1" stroke-linecap="butt"/>
<path d="M345.80,331.50L346.60,330.70M345.80,337.00L352.10,330.70M345.80,342.50L357.60,330.70M345.80,348.00L363.10,330.70M345.80,353.50L363.80,335.50M345.80,359.00L363.80,341.00M345.80,364.50L363.80,346.50M345.80,370.00L363.80,352.00M351.30,370.00L363.80,357.50M356.80,370.00L363.80,363.00M362.30,370.00L363.80,368.50" stroke="#222" stroke-width="0.9" fill="none"/>
<rect x="345.80" y="330.70" width="18.00" height="39.30" fill="none" stroke="#333" stroke-width="1"/>
<line x1="376.60" y1="361.50" x2="376.60" y2="362.90" stroke="#3a3a3a" stroke-width="1.1" stroke-linecap="butt"/>
<line x1="373.60" y1="361.50" x2="379.60" y2="361.50" stroke="#3a3a3a" stroke-width="1.1" stroke-linecap="butt"/>
<rect x="367.10" y="362.90" width="19" height="7.10" fill="#0a0a0a"/>
<line x1="399.00" y1="353.70" x2="399.00" y2="355.60" stroke="#3a3a3a" stroke-width="1.1" stroke-linecap="butt"/>
<line x1="396.00" y1="353.70" x2="402.00" y2="353.70" stroke="#3a3a3a" stroke-width="1.1" stroke-linecap="butt"/>
<path d="M390.00,358.80L392.70,356.10M390.00,364.30L398.20,356.10M390.00,369.80L403.70,356.10M395.30,370.00L408.00,357.30M400.80,370.00L408.00,362.80M406.30,370.00L408.00,368.30" stroke="#222" stroke-width="0.9" fill="none"/>
<rect x="390.00" y="356.10" width="18.00" height="13.90" fill="none" stroke="#333" stroke-width="1"/>
<line x1="431.65" y1="309.00" x2="431.65" y2="316.30" stroke="#3a3a3a" stroke-width="1.1" stroke-linecap="butt"/>
<line x1="428.65" y1="309.00" x2="434.65" y2="309.00" stroke="#3a3a3a" stroke-width="1.1" stroke-linecap="butt"/>
<rect x="422.15" y="316.30" width="19" height="53.70" fill="#0a0a0a"/>
<line x1="454.00" y1="247.40" x2="454.00" y2="261.70" stroke="#3a3a3a" stroke-width="1.1" stroke-linecap="butt"/>
<line x1="451.00" y1="247.40" x2="457.00" y2="247.40" stroke="#3a3a3a" stroke-width="1.1" stroke-linecap="butt"/>
<path d="M445.00,265.30L448.10,262.20M445.00,270.80L453.60,262.20M445.00,276.30L459.10,262.20M445.00,281.80L463.00,263.80M445.00,287.30L463.00,269.30M445.00,292.80L463.00,274.80M445.00,298.30L463.00,280.30M445.00,303.80L463.00,285.80M445.00,309.30L463.00,291.30M445.00,314.80L463.00,296.80M445.00,320.30L463.00,302.30M445.00,325.80L463.00,307.80M445.00,331.30L463.00,313.30M445.00,336.80L463.00,318.80M445.00,342.30L463.00,324.30M445.00,347.80L463.00,329.80M445.00,353.30L463.00,335.30M445.00,358.80L463.00,340.80M445.00,364.30L463.00,346.30M445.00,369.80L463.00,351.80M450.30,370.00L463.00,357.30M455.80,370.00L463.00,362.80M461.30,370.00L463.00,368.30" stroke="#222" stroke-width="0.9" fill="none"/>
<rect x="445.00" y="262.20" width="18.00" height="107.80" fill="none" stroke="#333" stroke-width="1"/>
<line x1="476.20" y1="336.20" x2="476.20" y2="341.40" stroke="#3a3a3a" stroke-width="1.1" stroke-linecap="butt"/>
<line x1="473.20" y1="336.20" x2="479.20" y2="336.20" stroke="#3a3a3a" stroke-width="1.1" stroke-linecap="butt"/>
<rect x="466.70" y="341.40" width="19" height="28.60" fill="#0a0a0a"/>
<line x1="498.20" y1="315.40" x2="498.20" y2="323.30" stroke="#3a3a3a" stroke-width="1.1" stroke-linecap="butt"/>
<line x1="495.20" y1="315.40" x2="501.20" y2="315.40" stroke="#3a3a3a" stroke-width="1.1" stroke-linecap="butt"/>
<path d="M489.20,325.60L491.00,323.80M489.20,331.10L496.50,323.80M489.20,336.60L502.00,323.80M489.20,342.10L507.20,324.10M489.20,347.60L507.20,329.60M489.20,353.10L507.20,335.10M489.20,358.60L507.20,340.60M489.20,364.10L507.20,346.10M489.20,369.60L507.20,351.60M494.30,370.00L507.20,357.10M499.80,370.00L507.20,362.60M505.30,370.00L507.20,368.10" stroke="#222" stroke-width="0.9" fill="none"/>
<rect x="489.20" y="323.80" width="18.00" height="46.20" fill="none" stroke="#333" stroke-width="1"/>
<rect x="312.5" y="237.2" width="205.00" height="132.80" fill="none" stroke="#111" stroke-width="1.3"/>
<text x="269.80" y="386.50" font-family='"Liberation Serif", serif' font-size="13" font-weight="normal" text-anchor="start" fill="#111" stroke="#111" stroke-width="0.3">LPS</text>
<text x="270.60" y="401.10" font-family='"Liberation Serif", serif' font-size="13" font-weight="normal" text-anchor="start" fill="#111" stroke="#111" stroke-width="0.3">p300</text>
<text x="269.40" y="418.30" font-family='"Liberation Serif", serif' font-size="13" font-weight="normal" text-anchor="start" fill="#111" stroke="#111" stroke-width="0.3">HDAC-1</text>
<line x1="331.90" y1="384.30" x2="335.70" y2="384.30" stroke="#111" stroke-width="1.25" stroke-linecap="butt"/>
<line x1="351.35" y1="382.00" x2="357.85" y2="382.00" stroke="#111" stroke-width="1.15" stroke-linecap="butt"/>
<line x1="354.60" y1="378.70" x2="354.60" y2="385.30" stroke="#111" stroke-width="1.15" stroke-linecap="butt"/>
<line x1="375.20" y1="383.20" x2="379.00" y2="383.20" stroke="#111" stroke-width="1.25" stroke-linecap="butt"/>
<line x1="395.55" y1="383.20" x2="402.05" y2="383.20" stroke="#111" stroke-width="1.15" stroke-linecap="butt"/>
<line x1="398.80" y1="379.90" x2="398.80" y2="386.50" stroke="#111" stroke-width="1.15" stroke-linecap="butt"/>
<line x1="428.90" y1="383.00" x2="432.70" y2="383.00" stroke="#111" stroke-width="1.25" stroke-linecap="butt"/>
<line x1="450.45" y1="380.70" x2="456.95" y2="380.70" stroke="#111" stroke-width="1.15" stroke-linecap="butt"/>
<line x1="453.70" y1="377.40" x2="453.70" y2="384.00" stroke="#111" stroke-width="1.15" stroke-linecap="butt"/>
<line x1="474.10" y1="381.60" x2="477.90" y2="381.60" stroke="#111" stroke-width="1.25" stroke-linecap="butt"/>
<line x1="495.75" y1="381.60" x2="502.25" y2="381.60" stroke="#111" stroke-width="1.15" stroke-linecap="butt"/>
<line x1="499.00" y1="378.30" x2="499.00" y2="384.90" stroke="#111" stroke-width="1.15" stroke-linecap="butt"/>
<line x1="331.90" y1="398.70" x2="335.70" y2="398.70" stroke="#111" stroke-width="1.25" stroke-linecap="butt"/>
<line x1="352.70" y1="397.60" x2="356.50" y2="397.60" stroke="#111" stroke-width="1.25" stroke-linecap="butt"/>
<line x1="375.20" y1="398.00" x2="379.00" y2="398.00" stroke="#111" stroke-width="1.25" stroke-linecap="butt"/>
<line x1="396.90" y1="398.70" x2="400.70" y2="398.70" stroke="#111" stroke-width="1.25" stroke-linecap="butt"/>
<line x1="427.55" y1="396.40" x2="434.05" y2="396.40" stroke="#111" stroke-width="1.15" stroke-linecap="butt"/>
<line x1="430.80" y1="393.10" x2="430.80" y2="399.70" stroke="#111" stroke-width="1.15" stroke-linecap="butt"/>
<line x1="450.45" y1="395.50" x2="456.95" y2="395.50" stroke="#111" stroke-width="1.15" stroke-linecap="butt"/>
<line x1="453.70" y1="392.20" x2="453.70" y2="398.80" stroke="#111" stroke-width="1.15" stroke-linecap="butt"/>
<line x1="472.75" y1="395.70" x2="479.25" y2="395.70" stroke="#111" stroke-width="1.15" stroke-linecap="butt"/>
<line x1="476.00" y1="392.40" x2="476.00" y2="399.00" stroke="#111" stroke-width="1.15" stroke-linecap="butt"/>
<line x1="495.75" y1="396.40" x2="502.25" y2="396.40" stroke="#111" stroke-width="1.15" stroke-linecap="butt"/>
<line x1="499.00" y1="393.10" x2="499.00" y2="399.70" stroke="#111" stroke-width="1.15" stroke-linecap="butt"/>
<line x1="331.90" y1="413.10" x2="335.70" y2="413.10" stroke="#111" stroke-width="1.25" stroke-linecap="butt"/>
<line x1="352.70" y1="412.40" x2="356.50" y2="412.40" stroke="#111" stroke-width="1.25" stroke-linecap="butt"/>
<line x1="373.85" y1="411.80" x2="380.35" y2="411.80" stroke="#111" stroke-width="1.15" stroke-linecap="butt"/>
<line x1="377.10" y1="408.50" x2="377.10" y2="415.10" stroke="#111" stroke-width="1.15" stroke-linecap="butt"/>
<line x1="395.55" y1="412.40" x2="402.05" y2="412.40" stroke="#111" stroke-width="1.15" stroke-linecap="butt"/>
<line x1="398.80" y1="409.10" x2="398.80" y2="415.70" stroke="#111" stroke-width="1.15" stroke-linecap="butt"/>
<line x1="428.90" y1="412.40" x2="432.70" y2="412.40" stroke="#111" stroke-width="1.25" stroke-linecap="butt"/>
<line x1="451.80" y1="411.40" x2="455.60" y2="411.40" stroke="#111" stroke-width="1.25" stroke-linecap="butt"/>
<line x1="472.75" y1="410.00" x2="479.25" y2="410.00" stroke="#111" stroke-width="1.15" stroke-linecap="butt"/>
<line x1="476.00" y1="406.70" x2="476.00" y2="413.30" stroke="#111" stroke-width="1.15" stroke-linecap="butt"/>
<line x1="495.75" y1="411.40" x2="502.25" y2="411.40" stroke="#111" stroke-width="1.15" stroke-linecap="butt"/>
<line x1="499.00" y1="408.10" x2="499.00" y2="414.70" stroke="#111" stroke-width="1.15" stroke-linecap="butt"/>
<text x="0.00" y="0.00" font-family='"Liberation Sans", sans-serif' font-size="10.55" font-weight="bold" text-anchor="middle" fill="#111" transform="translate(278.2,302.5) rotate(-90)">RLU/ <tspan font-weight="normal">&#181;</tspan>g protein</text>
<text x="266.50" y="234.00" font-family='"Liberation Sans", sans-serif' font-size="16.5" font-weight="bold" text-anchor="start" fill="#111" >D</text>
</svg></body></html>
